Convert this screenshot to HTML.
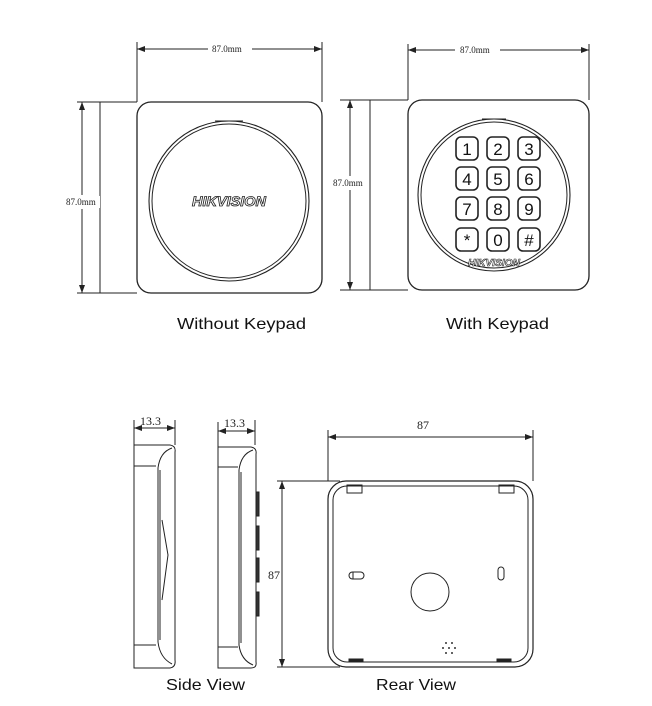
<!DOCTYPE html>
<html><head><meta charset="utf-8"><style>
html,body{margin:0;padding:0;background:#fff;width:652px;height:706px;overflow:hidden}
svg{display:block}
.d{font-family:"Liberation Serif",serif;font-size:9px;fill:#222}
.l{font-family:"Liberation Sans",sans-serif;font-size:16px;fill:#111}
.k{font-family:"Liberation Sans",sans-serif;font-size:17px;fill:#111;text-anchor:middle}
.h{font-family:"Liberation Sans",sans-serif;font-weight:bold;font-style:italic;fill:#fff;stroke:#222;stroke-width:0.8;text-anchor:middle}
</style></head><body>
<svg width="652" height="706" viewBox="0 0 652 706" xmlns="http://www.w3.org/2000/svg">
<defs>
<marker id="a" markerWidth="8" markerHeight="6" refX="8" refY="3" orient="auto-start-reverse" markerUnits="userSpaceOnUse"><path d="M0,0 L8,3 L0,6 Z" fill="#222"/></marker>
</defs>
<g stroke="#222" fill="none" stroke-width="1">
<!-- Left device -->
<line x1="137" y1="42" x2="137" y2="102"/><line x1="322" y1="42" x2="322" y2="102"/>
<line x1="137" y1="49" x2="208" y2="49" marker-start="url(#a)"/><line x1="252" y1="49" x2="322" y2="49" marker-end="url(#a)"/>
<line x1="77" y1="102" x2="137" y2="102"/><line x1="77" y1="293" x2="137" y2="293"/>
<line x1="82" y1="102" x2="82" y2="195" marker-start="url(#a)"/><line x1="82" y1="209" x2="82" y2="293" marker-end="url(#a)"/>
<line x1="100" y1="102" x2="100" y2="293"/>
<rect x="137" y="102" width="185" height="191" rx="14" stroke-width="1.3"/>
<circle cx="229" cy="201" r="80" stroke-width="1.1"/>
<circle cx="229" cy="201" r="77"/>
<line x1="215" y1="121" x2="243" y2="121"/>
<!-- Right device -->
<line x1="408" y1="44" x2="408" y2="100"/><line x1="589" y1="44" x2="589" y2="100"/>
<line x1="408" y1="50" x2="455" y2="50" marker-start="url(#a)"/><line x1="500" y1="50" x2="589" y2="50" marker-end="url(#a)"/>
<line x1="340" y1="100" x2="408" y2="100"/><line x1="340" y1="290" x2="408" y2="290"/>
<line x1="350" y1="100" x2="350" y2="176" marker-start="url(#a)"/><line x1="350" y1="190" x2="350" y2="290" marker-end="url(#a)"/>
<line x1="370" y1="100" x2="370" y2="290"/>
<rect x="408" y="100" width="181" height="190" rx="14" stroke-width="1.3"/>
<circle cx="494" cy="195" r="76" stroke-width="1.1"/>
<circle cx="494" cy="195" r="73"/>
<line x1="482" y1="119" x2="506" y2="119"/>
<g stroke-width="1.6">
<rect x="456" y="137" width="22" height="23" rx="5"/><rect x="487" y="137" width="22" height="23" rx="5"/><rect x="518" y="137" width="22" height="23" rx="5"/>
<rect x="456" y="167" width="22" height="23" rx="5"/><rect x="487" y="167" width="22" height="23" rx="5"/><rect x="518" y="167" width="22" height="23" rx="5"/>
<rect x="456" y="197" width="22" height="23" rx="5"/><rect x="487" y="197" width="22" height="23" rx="5"/><rect x="518" y="197" width="22" height="23" rx="5"/>
<rect x="456" y="228" width="22" height="23" rx="5"/><rect x="487" y="228" width="22" height="23" rx="5"/><rect x="518" y="228" width="22" height="23" rx="5"/>
</g>
<!-- Side view 1 -->
<line x1="134" y1="420" x2="134" y2="445"/><line x1="175" y1="420" x2="175" y2="445"/>
<line x1="134" y1="428" x2="175" y2="428" marker-start="url(#a)" marker-end="url(#a)"/>
<path d="M134,445 L170,445 Q176,446 175,452 L175,660 Q176,667 170,668 L134,668 Z"/>
<path d="M172,448 Q160,452 158,468 L158,642 Q160,658 172,664"/>
<line x1="134" y1="466" x2="156" y2="466"/><line x1="134" y1="645" x2="156" y2="645"/>
<line x1="160" y1="470" x2="160" y2="640"/><path d="M162,520 L168,555 L162,600"/>
<!-- Side view 2 -->
<line x1="218" y1="422" x2="218" y2="462"/><line x1="255" y1="420" x2="255" y2="445"/>
<line x1="218" y1="431" x2="255" y2="431" marker-start="url(#a)" marker-end="url(#a)"/>
<path d="M218,447 L251,447 Q257,448 256,454 L256,662 Q257,668 251,668 L218,668 Z"/>
<path d="M253,450 Q241,454 239,470 L239,645 Q241,660 253,665"/>
<line x1="218" y1="467" x2="238" y2="467"/><line x1="218" y1="647" x2="238" y2="647"/>
<line x1="241" y1="472" x2="241" y2="643"/>
<g fill="#333"><rect x="256" y="492" width="3" height="24"/><rect x="256" y="526" width="3" height="24"/><rect x="256" y="558" width="3" height="24"/><rect x="256" y="592" width="3" height="24"/></g>
<!-- Rear -->
<line x1="328" y1="430" x2="328" y2="481"/><line x1="533" y1="430" x2="533" y2="481"/>
<line x1="328" y1="437" x2="533" y2="437" marker-start="url(#a)" marker-end="url(#a)"/>
<line x1="277" y1="481" x2="340" y2="481"/><line x1="277" y1="667" x2="340" y2="667"/>
<line x1="282" y1="481" x2="282" y2="667" marker-start="url(#a)" marker-end="url(#a)"/>
<rect x="328" y="481" width="205" height="186" rx="18" stroke-width="1.2"/>
<rect x="333" y="486" width="195" height="176" rx="14"/>
<rect x="347" y="485" width="15" height="8"/><rect x="499" y="485" width="15" height="8"/>
<g fill="#222"><rect x="349" y="659" width="14" height="3"/><rect x="497" y="659" width="14" height="3"/></g>
<rect x="349" y="572" width="15" height="7" rx="3.5"/><line x1="353" y1="572" x2="353" y2="579"/>
<rect x="498" y="567" width="6" height="13" rx="3"/>
<circle cx="430" cy="592" r="19"/>
</g>
<g fill="#333"><circle cx="446" cy="643" r="1"/><circle cx="452" cy="643" r="1"/><circle cx="443" cy="648" r="1"/><circle cx="455" cy="648" r="1"/><circle cx="446" cy="653" r="1"/><circle cx="452" cy="653" r="1"/><circle cx="449" cy="648" r="1"/></g>
<!-- texts -->
<text class="d" x="212" y="52">87.0mm</text>
<text class="d" x="460" y="53">87.0mm</text>
<rect x="64" y="196" width="36" height="12" fill="#fff"/>
<text class="d" x="66" y="205">87.0mm</text>
<rect x="332" y="177" width="36" height="12" fill="#fff"/>
<text class="d" x="333" y="186">87.0mm</text>
<text class="d" x="140" y="425" style="font-size:12px">13.3</text>
<text class="d" x="224" y="427" style="font-size:12px">13.3</text>
<text class="d" x="417" y="429" style="font-size:12px">87</text>
<text class="d" x="268" y="579" style="font-size:12px">87</text>
<text class="h" x="229" y="206" style="font-size:14px" textLength="74" lengthAdjust="spacingAndGlyphs">HIKVISION</text>
<text class="h" x="494" y="266" style="font-size:10px;stroke-width:0.6" textLength="52" lengthAdjust="spacingAndGlyphs">HIKVISION</text>
<text class="k" x="467" y="155">1</text><text class="k" x="498" y="155">2</text><text class="k" x="529" y="155">3</text>
<text class="k" x="467" y="185">4</text><text class="k" x="498" y="185">5</text><text class="k" x="529" y="185">6</text>
<text class="k" x="467" y="215">7</text><text class="k" x="498" y="215">8</text><text class="k" x="529" y="215">9</text>
<text class="k" x="467" y="246">*</text><text class="k" x="498" y="246">0</text><text class="k" x="529" y="246">#</text>
<text class="l" x="177" y="329" textLength="129" lengthAdjust="spacingAndGlyphs">Without Keypad</text>
<text class="l" x="446" y="329" textLength="103" lengthAdjust="spacingAndGlyphs">With Keypad</text>
<text class="l" x="166" y="690" textLength="79" lengthAdjust="spacingAndGlyphs">Side View</text>
<text class="l" x="376" y="690" textLength="80" lengthAdjust="spacingAndGlyphs">Rear View</text>
</svg>
</body></html>
